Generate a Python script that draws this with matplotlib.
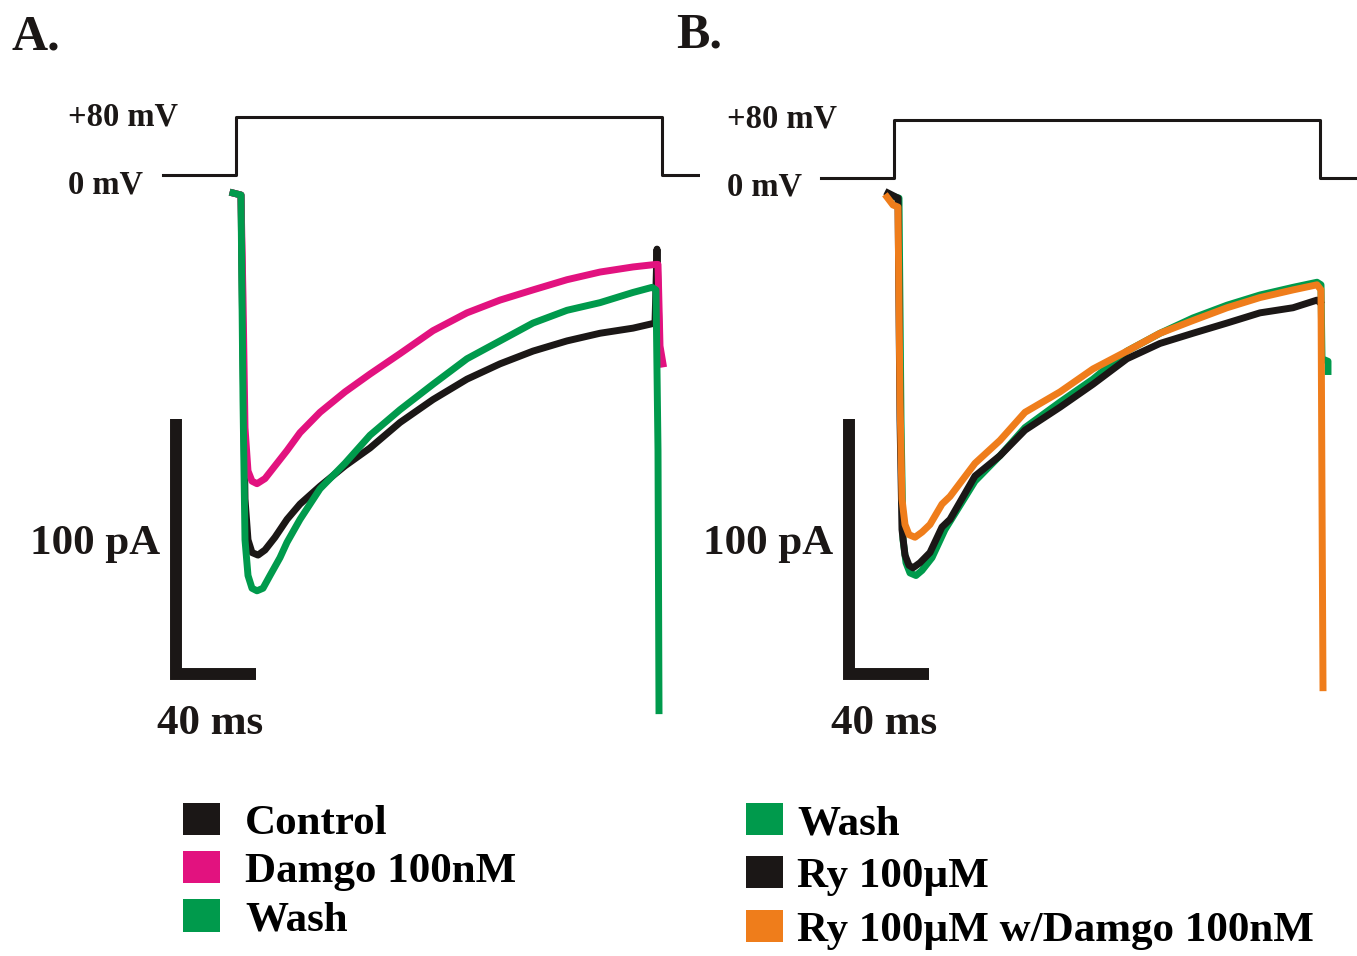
import numpy as np
import matplotlib
matplotlib.use("Agg")
import matplotlib.pyplot as plt
from matplotlib.patches import Patch

plt.rcParams['font.family'] = ['Liberation Serif', 'DejaVu Serif']
plt.rcParams['font.weight'] = 'bold'

# ---- data (time in ms from pulse onset, current in pA) ----
# voltage command, shared by both panels
v_time = [-36.5, 0, 0, 213, 213, 231]
v_mv = [0, 0, 80, 80, 0, 0]

# panel A
a_control_t = [-1.5, 2.5, 3.5, 4.5, 6, 8, 11, 14.5, 19.5, 25.5, 32, 42, 54.5, 67, 82,
               98.5, 115.5, 132, 148.5, 165.5, 182, 198.5, 209.5, 210.5, 211.5]
a_control_i = [0, -0.8, -62, -120, -136, -141, -142, -140, -135, -128, -122, -115, -107,
               -100, -90, -81, -73, -67, -62, -58, -55, -53, -51, -22, -54]
a_damgo_t = [-1.5, 2.5, 3.5, 4.5, 6, 8, 10.5, 14.5, 19.5, 25.5, 32, 42, 54.5, 67, 82,
             98.5, 115.5, 132, 148.5, 165.5, 182, 198.5, 210, 211, 212, 213.5]
a_damgo_i = [0, -0.8, -41, -92, -109, -113, -114, -112, -107, -101, -94, -86, -78, -71,
             -63, -54, -47, -42, -38, -34, -31, -29, -28, -28, -60, -67]
a_wash_t = [-1.5, 2.5, 3.5, 4.5, 6, 8, 10.5, 13.5, 17, 22, 25.5, 32, 42, 54.5, 67, 82,
            98.5, 115.5, 132, 148.5, 165.5, 182, 198.5, 208, 210, 211, 211.5]
a_wash_i = [0, -0.8, -81, -136, -150, -155, -156, -155, -150, -143, -137, -128, -116,
            -106, -95, -85, -75, -65, -58, -51, -46, -43, -39, -37, -38, -101, -203]

# panel B
b_wash_t = [-3, 2.5, 3.5, 4.5, 6, 8, 11, 14, 19, 25.5, 40.5, 53, 65.5, 83, 99.5, 116.5,
            133, 149.5, 166.5, 183, 199.5, 211.5, 213.5, 214, 217, 217]
b_wash_i = [-0.8, -2, -89, -136, -145, -149, -150, -148, -143, -132, -113, -103, -92,
            -82, -73, -62, -55, -49, -44, -40, -37, -35, -36, -65, -66, -70]
b_ry_t = [-3, 2, 3, 4, 5.5, 7.5, 9.5, 13, 18, 24, 28, 40.5, 53, 65.5, 83, 99.5, 116.5,
          133, 149.5, 166.5, 183, 199.5, 211.5, 213]
b_ry_i = [0, -2, -89, -132, -142, -146, -147, -145, -141, -131, -128, -111, -103, -93,
          -84, -75, -65, -59, -55, -51, -47, -45, -42, -43]
b_rydamgo_t = [-3.5, -0.5, 2, 3, 4, 5.5, 7.5, 10.5, 14, 18, 24, 28, 40.5, 53, 65.5, 83,
               99.5, 116.5, 133, 149.5, 166.5, 183, 199.5, 211.5, 213.5, 214, 214.5]
b_rydamgo_i = [-1.6, -4.7, -5.5, -81, -120, -130, -134, -135, -133, -130, -122, -119,
               -106, -97, -86, -78, -69, -62, -55, -50, -45, -41, -38, -36, -38, -120, -194]

legend_a = ['Control', 'Damgo 100nM', 'Wash']
legend_b = ['Wash', 'Ry 100\u00b5M', 'Ry 100\u00b5M w/Damgo 100nM']

BLACK = '#1b1716'
MAGENTA = '#e2127f'
GREEN = '#009a4c'
ORANGE = '#ef7d1b'

SCALE_MS = 40
SCALE_PA = 100

W, H = 1357, 956
PX_MS = 2.0
PX_PA = 2.55
PX_MV = 0.725

fig = plt.figure(figsize=(W / 100, H / 100), dpi=100)


def px(x, y):
    return x / W, 1 - y / H


def panel(x0, x1, y0, y1, t0, i0, v0):
    ax = fig.add_axes([x0 / W, 1 - y1 / H, (x1 - x0) / W, (y1 - y0) / H])
    ax.set_xlim((x0 - t0) / PX_MS, (x1 - t0) / PX_MS)
    ax.set_ylim(-(y1 - i0) / PX_PA, -(y0 - i0) / PX_PA)
    ax.axis('off')
    axv = ax.twinx()
    axv.set_ylim((v0 - y1) / PX_MV, (v0 - y0) / PX_MV)
    axv.axis('off')
    return ax, axv


def scalebar(ax, t, i):
    ax.plot([t, t, t + SCALE_MS], [i + SCALE_PA, i, i], color=BLACK, lw=8.6,
            solid_capstyle='butt', solid_joinstyle='miter')


txt = dict(fontsize=23.5, fontweight='bold', color=BLACK)
big = dict(fontsize=31, fontweight='bold', color=BLACK)
LW = 5

# ---- panel A ----
axA, avA = panel(140, 700, 90, 740, 236, 193, 175)
avA.plot(v_time, v_mv, color=BLACK, lw=2.2)
axA.plot(a_control_t, a_control_i, color=BLACK, lw=LW)
axA.plot(a_damgo_t, a_damgo_i, color=MAGENTA, lw=LW)
axA.plot(a_wash_t, a_wash_i, color=GREEN, lw=LW)
scalebar(axA, -30, -188.5)

# ---- panel B ----
axB, avB = panel(810, 1357, 90, 740, 894, 193, 178)
avB.plot(v_time, v_mv, color=BLACK, lw=2.2)
axB.plot(b_wash_t, b_wash_i, color=GREEN, lw=LW)
axB.plot(b_ry_t, b_ry_i, color=BLACK, lw=LW)
axB.plot(b_rydamgo_t, b_rydamgo_i, color=ORANGE, lw=LW)
scalebar(axB, -22.5, -188.5)

# ---- labels ----
fig.text(*px(12, 50), 'A.', fontsize=36, fontweight='bold', color=BLACK)
fig.text(*px(676, 48), 'B.', fontsize=36, fontweight='bold', color=BLACK)
for x0, yt, yb in [(68, 126, 193), (727, 128, 195)]:
    fig.text(*px(x0, yt), '+80 mV', **txt)
    fig.text(*px(x0, yb), '0 mV', **txt)
for xr, xc in [(160, 210), (833, 884)]:
    fig.text(*px(xr, 554), '100 pA', ha='right', **big)
    fig.text(*px(xc, 734), '40 ms', ha='center', **big)

# ---- legends ----
for labels, colors, x, pad, sp in [(legend_a, [BLACK, MAGENTA, GREEN], 183, 0.58, 0.19),
                                   (legend_b, [GREEN, BLACK, ORANGE], 746, 0.33, 0.31)]:
    handles = [Patch(facecolor=c, edgecolor='none') for c in colors]
    fig.legend(handles, labels, loc='upper left', bbox_to_anchor=px(x, 803),
               bbox_transform=fig.transFigure, frameon=False, borderpad=0,
               borderaxespad=0, handlelength=0.86, handleheight=0.77,
               handletextpad=pad, labelspacing=sp,
               prop={'family': 'Liberation Serif', 'weight': 'bold', 'size': 31})

fig.savefig('out.png', dpi=100, facecolor='white')
